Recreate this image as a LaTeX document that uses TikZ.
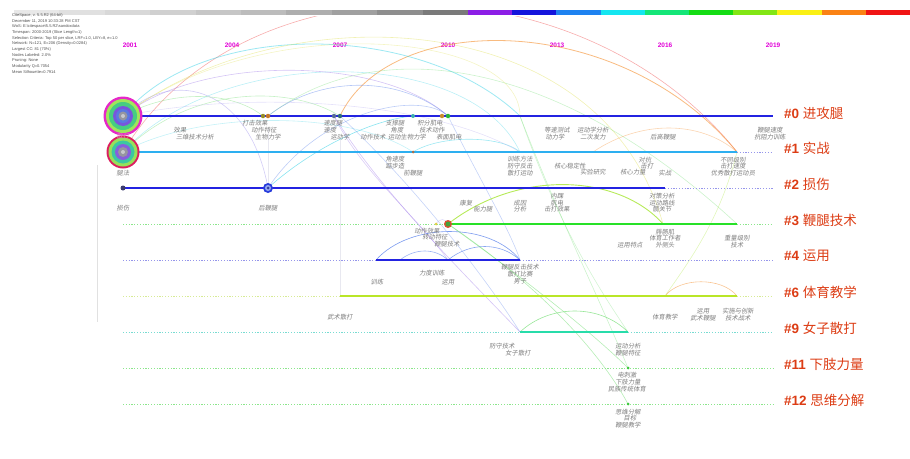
\documentclass[tikz,border=0pt]{standalone}
\usepackage{fontspec}
\setmainfont{Liberation Sans}
\newfontfamily\cjk[FakeSlant=0.15]{Noto Sans CJK SC}
\newfontfamily\cjkup{Noto Sans CJK SC}
\definecolor{labgray}{RGB}{125,125,125}
\definecolor{hdrgray}{RGB}{80,80,80}
\definecolor{yrmag}{RGB}{225,0,215}
\definecolor{ttlred}{RGB}{220,60,20}
\definecolor{tlblue}{RGB}{35,35,225}
\definecolor{tllight}{RGB}{45,175,240}
\definecolor{tlgreen}{RGB}{40,225,40}
\definecolor{tlyg}{RGB}{185,230,40}
\definecolor{tlteal}{RGB}{40,220,170}
\definecolor{dotlav}{RGB}{150,150,235}
\definecolor{dotgreen}{RGB}{140,230,140}
\definecolor{dotyel}{RGB}{215,235,150}
\definecolor{dotcyan}{RGB}{120,220,210}
\definecolor{acred}{RGB}{240,90,90}
\definecolor{acorange}{RGB}{245,150,60}
\definecolor{accyan}{RGB}{60,210,230}
\definecolor{acyellow}{RGB}{225,225,90}
\definecolor{acgreen}{RGB}{110,220,110}
\definecolor{acpurple}{RGB}{150,110,230}
\definecolor{acblue}{RGB}{90,130,235}
\definecolor{aclav}{RGB}{180,170,240}
\definecolor{acyg}{RGB}{170,230,60}
\begin{document}
\begin{tikzpicture}[x=1pt,y=-1pt,
  lbl/.style={font=\cjk\fontsize{6.3}{6.3}\selectfont, text=labgray, inner sep=0pt},
  yr/.style={font=\bfseries\fontsize{6.5}{6.5}\selectfont, text=yrmag, inner sep=0pt},
  ttl/.style={font=\fontsize{13.5}{13.5}\selectfont, text=ttlred, anchor=west, inner sep=0pt},
  tlsolid/.style={line width=2pt},
  tldot/.style={line width=0.7pt, dash pattern=on 1.2pt off 1.6pt},
  arcline/.style={line width=0.6pt},
  dotnode/.style={circle, inner sep=0pt, minimum size=#1},
]
\useasboundingbox (0,0) rectangle (910,458);

% colour bar
\foreach \g [count=\i from 0] in {232,224,216,208,198,188,174,160,142,122}
  \fill[color={rgb,255:red,\g;green,\g;blue,\g}] ({14+45.4*\i},9.5) rectangle ++(45.5,5.5);
\foreach \r/\gg/\b [count=\i from 0] in {140/30/230,20/20/220,30/130/240,20/230/240,20/230/120,20/220/20,130/230/20,250/240/20,250/130/20,240/20/20}
  \fill[color={rgb,255:red,\r;green,\gg;blue,\b}] ({468+44.2*\i},9.5) rectangle ++(44.3,5.5);

% header
\node[anchor=north west, align=left, font=\fontsize{4}{5.65}\selectfont, text=hdrgray, inner sep=0pt] (hdr) at (12,13.5)
{CiteSpace, v. 5.5.R2 (64-bit)\\
December 11, 2019 10:33:28 PM CST\\
WoS: E:\textbackslash citespace\textbackslash 5.5.R2\textbackslash sandoxdata\\
Timespan: 2000-2019 (Slice Length=1)\\
Selection Criteria: Top 50 per slice, LRF=1.0, LBY=8, e=1.0\\
Network: N=121, E=206 (Density=0.0284)\\
Largest CC: 81 (70\%)\\
Nodes Labeled: 2.0\%\\
Pruning: None\\
Modularity Q=0.7054\\
Mean Silhouette=0.7914};

% years
\node[yr] (y2001) at (130,45) {2001};
\node[yr] (y2004) at (232,45) {2004};
\node[yr] (y2007) at (340,45) {2007};
\node[yr] (y2010) at (448,45) {2010};
\node[yr] (y2013) at (557,45) {2013};
\node[yr] (y2016) at (665,45) {2016};
\node[yr] (y2019) at (773,45) {2019};

% positions
\coordinate (p0a) at (123,116); \coordinate (p0b) at (263,116); \coordinate (p0c) at (268,116);
\coordinate (p0d) at (334,116); \coordinate (p0e) at (340,116); \coordinate (p0f) at (413,116);
\coordinate (p0g) at (442,116); \coordinate (p0h) at (448,116); \coordinate (p0i) at (520,116);
\coordinate (p0end) at (773,116);
\coordinate (p1a) at (123,152); \coordinate (p1b) at (413,152); \coordinate (p1c) at (520,152);
\coordinate (p1e) at (593,152); \coordinate (p1f) at (665,152); \coordinate (p1end) at (737,152);
\coordinate (p1far) at (773,152);
\coordinate (p2a) at (123,188); \coordinate (p2b) at (268,188); \coordinate (p2c) at (665,188); \coordinate (p2far) at (773,188);
\coordinate (p3s) at (123,224); \coordinate (p3b) at (436,224); \coordinate (p3a) at (448,224); \coordinate (p3m) at (663,224); \coordinate (p3end) at (737,224); \coordinate (p3far) at (773,224);
\coordinate (p4s) at (123,260); \coordinate (p4a) at (376,260); \coordinate (p4d) at (400,260); \coordinate (p4b) at (448,260); \coordinate (p4c) at (520,260); \coordinate (p4far) at (773,260);
\coordinate (p6s) at (123,296); \coordinate (p6a) at (340,296); \coordinate (p6b) at (665,296); \coordinate (p6c) at (737,296); \coordinate (p6far) at (773,296);
\coordinate (p9s) at (123,332); \coordinate (p9a) at (520,332); \coordinate (p9b) at (628,332); \coordinate (p9far) at (773,332);
\coordinate (p11s) at (123,368); \coordinate (p11) at (628,368); \coordinate (p11far) at (773,368);
\coordinate (p12s) at (123,404); \coordinate (p12) at (628,404); \coordinate (p12far) at (773,404);
\coordinate (v0t) at (97,165); \coordinate (v0b) at (97,322);
\coordinate (v1t) at (268,128); \coordinate (v1b) at (268,186);
\coordinate (v2t) at (340,140); \coordinate (v2b) at (340,296);

% faint guide lines
\draw[line width=0.5pt, color={rgb,255:red,225;green,225;blue,225}] (v0t) -- (v0b);
\draw[line width=0.4pt, color={rgb,255:red,232;green,232;blue,240}] (v1t) -- (v1b);
\draw[line width=0.4pt, color={rgb,255:red,232;green,232;blue,240}] (v2t) -- (v2b);

% arcs
\begin{scope}
\clip (0,16) rectangle (910,458);
\draw[arcline, acred, draw opacity=0.5] (p1a) .. controls (240,-45) and (580,-45) .. (p1end);
\draw[arcline, acorange, draw opacity=0.65, line width=0.8pt] (p0e) .. controls (390,10) and (620,10) .. (p1end);
\draw[arcline, accyan, draw opacity=0.5, line width=0.8pt] (p0a) .. controls (200,20) and (420,20) .. (p0i);
\draw[arcline, accyan, draw opacity=0.35] (p1a) .. controls (220,45) and (470,45) .. (p1c);
\draw[arcline, acyellow, draw opacity=0.45] (p0a) .. controls (280,-5) and (600,0) .. (p3m);
\draw[arcline, acgreen, draw opacity=0.35] (p0c) .. controls (380,30) and (560,60) .. (p3end);
\draw[arcline, acyellow, draw opacity=0.35] (p0a) .. controls (260,10) and (520,30) .. (p0i);
\draw[arcline, acpurple, draw opacity=0.4] (p0a) .. controls (200,55) and (380,55) .. (p0h);
\draw[arcline, acblue, draw opacity=0.45] (p0c) .. controls (320,75) and (400,75) .. (p0h);
\draw[arcline, aclav, draw opacity=0.6] (p0a) .. controls (175,65) and (250,90) .. (p2b);
\draw[arcline, accyan, draw opacity=0.6] (p2b) .. controls (310,150) and (370,120) .. (p0f);
\draw[arcline, acpurple, draw opacity=0.4] (p0d) .. controls (380,190) and (460,270) .. (p9a);
\draw[arcline, acblue, draw opacity=0.35] (p0e) .. controls (430,200) and (500,300) .. (p9a);
\draw[arcline, acpurple, draw opacity=0.35] (p0d) .. controls (360,170) and (420,220) .. (p4b);
\draw[arcline, acgreen, draw opacity=0.5] (p3a) .. controls (540,290) and (600,340) .. (p11);
\draw[arcline, acgreen, draw opacity=0.5] (p3a) .. controls (560,300) and (610,370) .. (p12);
\draw[arcline, acblue, draw opacity=0.35] (p0h) .. controls (480,180) and (510,230) .. (p4c);
\draw[arcline, acorange, draw opacity=0.4] (p1e) .. controls (640,120) and (700,120) .. (p1end);
\draw[arcline, acyg, draw opacity=0.85, line width=0.9pt] (p3a) .. controls (520,168) and (620,175) .. (p3m);
\draw[arcline, acblue, draw opacity=0.8] (p4a) .. controls (410,222) and (490,222) .. (p4c);
\draw[arcline, acblue, draw opacity=0.7] (p4b) .. controls (470,242) and (500,242) .. (p4c);
\draw[arcline, acblue, draw opacity=0.6] (p4d) .. controls (415,248) and (435,248) .. (p4b);
\draw[arcline, acgreen, draw opacity=0.7] (p9a) .. controls (550,304) and (600,304) .. (p9b);
\draw[arcline, acorange, draw opacity=0.55] (p6b) .. controls (680,277) and (722,277) .. (p6c);
\draw[arcline, acgreen, draw opacity=0.35] (p0i) .. controls (560,220) and (600,300) .. (p11);
\draw[arcline, acgreen, draw opacity=0.3] (p0i) .. controls (560,230) and (600,290) .. (p9b);
\draw[arcline, acyg, draw opacity=0.35] (p1end) .. controls (720,220) and (690,260) .. (p6b);
\draw[arcline, acgreen, draw opacity=0.4] (p1a) .. controls (190,85) and (290,85) .. (p0e);
\draw[arcline, acgreen, draw opacity=0.4] (p0a) .. controls (170,90) and (230,90) .. (p0b);
\draw[arcline, accyan, draw opacity=0.5] (p1b) .. controls (440,135) and (500,135) .. (p1c);
\draw[arcline, acblue, draw opacity=0.4] (p2b) .. controls (320,110) and (420,90) .. (p0h);
\draw[arcline, aclav, draw opacity=0.35] (p0a) .. controls (250,90) and (430,100) .. (p1c);
\draw[arcline, accyan, draw opacity=0.3] (p1a) .. controls (200,110) and (350,110) .. (p1b);
\draw[arcline, aclav, draw opacity=0.4] (p3b) .. controls (440,218) and (445,218) .. (p3a);
\end{scope}

% timelines
\draw[tlsolid, tlblue, line width=2.4pt] (p0a) -- (p0end);
\draw[tlsolid, tllight] (p1a) -- (p1end);
\draw[tldot, dotlav] (p1end) -- (p1far);
\draw[tlsolid, tlblue] (p2a) -- (p2c);
\draw[tldot, dotlav] (p2c) -- (p2far);
\draw[tldot, dotgreen] (p3s) -- (p3a);
\draw[tlsolid, tlgreen] (p3a) -- (p3end);
\draw[tldot, dotgreen] (p3end) -- (p3far);
\draw[tldot, dotlav] (p4s) -- (p4a);
\draw[tlsolid, tlblue] (p4a) -- (p4c);
\draw[tldot, dotlav] (p4c) -- (p4far);
\draw[tldot, dotyel] (p6s) -- (p6a);
\draw[tlsolid, tlyg] (p6a) -- (p6c);
\draw[tldot, dotyel] (p6c) -- (p6far);
\draw[tldot, dotcyan] (p9s) -- (p9a);
\draw[tlsolid, tlteal] (p9a) -- (p9b);
\draw[tldot, dotcyan] (p9b) -- (p9far);
\draw[tldot, dotgreen] (p11s) -- (p11far);
\draw[tldot, dotgreen] (p12s) -- (p12far);

% big circles
\node[dotnode=39pt, fill={rgb,255:red,230;green,40;blue,200}] (c0r1) at (p0a) {};
\node[dotnode=34pt, fill={rgb,255:red,160;green,230;blue,90}] (c0r2) at (p0a) {};
\node[dotnode=28pt, fill={rgb,255:red,70;green,205;blue,130}] (c0r3) at (p0a) {};
\node[dotnode=20pt, fill={rgb,255:red,120;green,85;blue,220}] (c0r4) at (p0a) {};
\node[dotnode=14pt, fill={rgb,255:red,90;green,120;blue,225}] (c0r5) at (p0a) {};
\node[dotnode=9pt, fill={rgb,255:red,150;green,150;blue,160}] (c0r6) at (p0a) {};
\node[dotnode=4pt, fill={rgb,255:red,200;green,200;blue,205}] (c0r7) at (p0a) {};
\node[dotnode=33pt, fill={rgb,255:red,220;green,30;blue,95}] (c1r1) at (p1a) {};
\node[dotnode=29pt, fill={rgb,255:red,150;green,225;blue,90}] (c1r2) at (p1a) {};
\node[dotnode=23pt, fill={rgb,255:red,60;green,200;blue,160}] (c1r3) at (p1a) {};
\node[dotnode=16pt, fill={rgb,255:red,135;green,95;blue,220}] (c1r4) at (p1a) {};
\node[dotnode=10pt, fill={rgb,255:red,150;green,150;blue,160}] (c1r5) at (p1a) {};
\node[dotnode=4pt, fill={rgb,255:red,200;green,200;blue,205}] (c1r6) at (p1a) {};

% small dots
\node[dotnode=4.5pt, fill={rgb,255:red,150;green,140;blue,40}] (d0b) at (p0b) {};
\node[dotnode=4.5pt, fill={rgb,255:red,200;green,120;blue,40}] (d0c) at (p0c) {};
\node[dotnode=4.5pt, fill={rgb,255:red,90;green,110;blue,150}] (d0d) at (p0d) {};
\node[dotnode=4.5pt, fill={rgb,255:red,50;green,110;blue,120}] (d0e) at (p0e) {};
\node[dotnode=4pt, fill={rgb,255:red,60;green,175;blue,175}] (d0f) at (p0f) {};
\node[dotnode=4.5pt, fill={rgb,255:red,200;green,140;blue,50}] (d0g) at (p0g) {};
\node[dotnode=4.5pt, fill={rgb,255:red,40;green,180;blue,60}] (d0h) at (p0h) {};
\node[dotnode=3pt, fill={rgb,255:red,170;green,110;blue,70}] (d1b) at (p1b) {};
\node[dotnode=5pt, fill={rgb,255:red,60;green,60;blue,110}] (d2a) at (p2a) {};
\node[dotnode=10pt, fill={rgb,255:red,40;green,60;blue,220}] (d2b1) at (p2b) {};
\node[dotnode=6pt, fill={rgb,255:red,150;green,170;blue,240}] (d2b2) at (p2b) {};
\node[dotnode=3pt, fill={rgb,255:red,50;green,60;blue,160}] (d2b3) at (p2b) {};
\node[dotnode=3pt, fill={rgb,255:red,225;green,205;blue,70}] (d3b) at (p3b) {};
\node[dotnode=8pt, fill={rgb,255:red,220;green,80;blue,50}] (d3a1) at (p3a) {};
\node[dotnode=5pt, fill={rgb,255:red,70;green,160;blue,60}] (d3a2) at (p3a) {};
\node[dotnode=3pt, fill={rgb,255:red,60;green,200;blue,60}] (d11) at (p11) {};
\node[dotnode=3pt, fill={rgb,255:red,60;green,200;blue,60}] (d12) at (p12) {};

% labels
\foreach \x/\y/\t [count=\k] in {
 180/130/效果, 195/137/三维技术分析, 255/123/打击效果, 264/130/动作特征, 268/137/生物力学,
 333/123/速度腿, 330/130/速度, 340/137/运动学, 395/123/支撑腿, 397/130/角度,
 373/137/动作技术, 407/137/运动生物力学, 430/123/积分肌电, 432/130/技术动作, 449/137/表面肌电,
 557/130/等速测试, 555/137/动力学, 593/130/运动学分析, 593/137/二次发力, 663/137/后高鞭腿,
 770/130/鞭腿速度, 770/137/抗阻力训练,
 123/173/腿法,
 395/159/角速度, 395/166/踮步造, 413/173/前鞭腿, 520/159/训练方法, 520/166/防守反击, 520/173/散打运动,
 570/166/核心稳定性, 593/172/实验研究, 633/172/核心力量, 645/160/对抗, 647/166/击打, 665/173/实战,
 733/160/不同级别, 733/166/击打速度, 733/173/优秀散打运动员,
 123/208/损伤, 268/208/后鞭腿, 466/203/康复, 483/209/能力腿, 520/203/成因, 520/209/分析,
 557/196/内踝, 557/203/肌电, 557/209/击打效果, 662/196/对策分析, 662/203/运动路线, 662/209/髋关节,
 427/231/动作效果, 435/237/转动特征, 447/244/鞭腿技术, 630/245/运用特点, 665/232/腓肠肌,
 665/238/体育工作者, 665/245/外侧头, 737/238/重量级别, 737/245/技术,
 432/273/力度训练, 448/282/运用, 377/282/训练, 520/267/鞭腿反击技术, 520/274/散打比赛, 520/281/男子,
 340/317/武术散打, 665/317/体育教学, 703/311/运用, 703/318/武术鞭腿, 738/311/实施与创新, 738/318/技术战术,
 502/346/防守技术, 518/353/女子散打, 628/346/运动分析, 628/353/鞭腿特征,
 627/375/电刺激, 628/382/下肢力量, 627/389/民族传统体育,
 628/412/思维分解, 630/418/目标, 628/425/鞭腿教学}
 \node[lbl] (lab\k) at (\x,\y) {\t};
\node[lbl, text={rgb,255:red,225;green,120;blue,190}] (labtop) at (123,136) {散打};

% cluster titles
\node[ttl] (t0) at (784,113) {\textbf{\#0} \cjkup 进攻腿};
\node[ttl] (t1) at (784,148) {\textbf{\#1} \cjkup 实战};
\node[ttl] (t2) at (784,184) {\textbf{\#2} \cjkup 损伤};
\node[ttl] (t3) at (784,220) {\textbf{\#3} \cjkup 鞭腿技术};
\node[ttl] (t4) at (784,256) {\textbf{\#4} \cjkup 运用};
\node[ttl] (t6) at (784,292) {\textbf{\#6} \cjkup 体育教学};
\node[ttl] (t9) at (784,328) {\textbf{\#9} \cjkup 女子散打};
\node[ttl] (t11) at (784,364) {\textbf{\#11} \cjkup 下肢力量};
\node[ttl] (t12) at (784,400) {\textbf{\#12} \cjkup 思维分解};
\end{tikzpicture}
\end{document}
